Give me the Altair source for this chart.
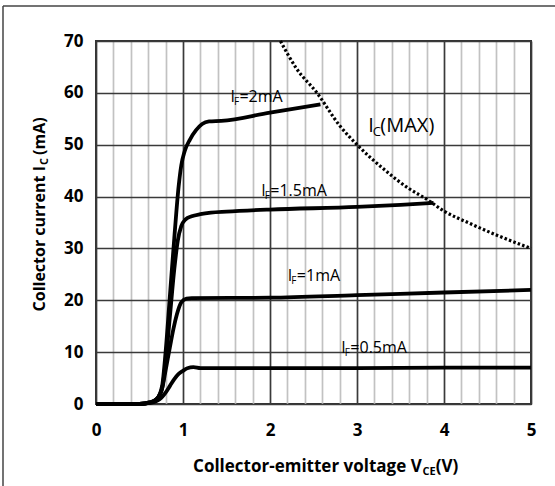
import altair as alt
import pandas as pd

# ---- data ----
series_names = ["2mA", "1.5mA", "1mA", "0.5mA"]

vce_2 = [0, 0.5, 0.62, 0.7, 0.76, 0.8, 0.85, 0.9, 0.95, 0.98, 1.02, 1.08, 1.15, 1.22, 1.3, 1.44, 2.0, 2.58]
ic_2 = [0, 0, 0.3, 1.0, 3.5, 10, 21, 32, 42, 46, 48.8, 51, 52.8, 54, 54.5, 54.6, 56.2, 57.8]

vce_15 = [0, 0.5, 0.62, 0.7, 0.76, 0.8, 0.85, 0.9, 0.94, 0.98, 1.03, 1.1, 1.2, 1.32, 1.5, 2.0, 3.0, 3.5, 3.88]
ic_15 = [0, 0, 0.3, 1.0, 3.0, 8, 17, 26, 31.5, 34.3, 35.6, 36.2, 36.6, 36.9, 37.1, 37.5, 38.0, 38.4, 38.8]

vce_1 = [0, 0.5, 0.62, 0.7, 0.76, 0.8, 0.85, 0.89, 0.93, 0.98, 1.04, 1.1, 2.0, 3.0, 4.0, 5.0]
ic_1 = [0, 0, 0.3, 1.0, 3.0, 6.5, 11, 14.5, 17.3, 19.6, 20.3, 20.4, 20.5, 21.0, 21.5, 22.0]

vce_05 = [0, 0.5, 0.62, 0.7, 0.75, 0.8, 0.85, 0.9, 0.95, 1.0, 1.05, 1.12, 1.2, 2.0, 3.0, 4.0, 5.0]
ic_05 = [0, 0, 0.2, 0.6, 1.2, 2.2, 3.5, 4.8, 5.8, 6.4, 6.9, 7.1, 6.9, 6.9, 6.9, 7.0, 7.0]

vce_max = [2.12, 2.3, 2.54, 2.8, 3.0, 3.3, 3.6, 3.8, 4.0, 4.3, 4.6, 5.0]
ic_max = [70, 64.8, 60, 53.7, 50, 45.4, 41.5, 39.5, 37.2, 34.8, 32.6, 30]

label_x = [1.545, 1.90, 2.205, 2.82]
label_y = [58.2, 40.1, 23.8, 9.8]
label_rest = ["=2mA", "=1.5mA", "=1mA", "=0.5mA"]

max_label_x = [3.13]
max_label_y = [52.5]

x_ticks = [0, 0.2, 0.4, 0.6, 0.8, 1, 1.2, 1.4, 1.6, 1.8, 2, 2.2, 2.4, 2.6, 2.8,
           3, 3.2, 3.4, 3.6, 3.8, 4, 4.2, 4.4, 4.6, 4.8, 5]
y_ticks = [0, 10, 20, 30, 40, 50, 60, 70]

# ---- tables ----
rows = []
for name, xs, ys in zip(series_names, [vce_2, vce_15, vce_1, vce_05], [ic_2, ic_15, ic_1, ic_05]):
    for a, b in zip(xs, ys):
        rows.append({"series": name, "vce": a, "ic": b})
curves_df = pd.DataFrame(rows)
max_df = pd.DataFrame({"vce": vce_max, "ic": ic_max})
labels_df = pd.DataFrame({"vce": label_x, "ic": label_y, "rest": label_rest})
max_label_df = pd.DataFrame({"vce": max_label_x, "ic": max_label_y})
one = pd.DataFrame({"k": [0]})

W, H = 435, 363
FONT = "Open Sans"

xscale = alt.Scale(domain=[0, 5], nice=False, zero=False)
yscale = alt.Scale(domain=[0, 70], nice=False)

x_axis = alt.Axis(
    values=x_ticks, tickCount=len(x_ticks) + 5, title=None, grid=True,
    gridColor={"condition": {"test": "datum.value % 1 === 0", "value": "#3a3a3a"}, "value": "#c2c2c2"},
    gridWidth=1.7, ticks=False, tickSize=0, domain=False,
    labelExpr="datum.value % 1 === 0 ? '' + datum.value : ''",
    labelFlush=False, labelPadding=18, labelFont=FONT, labelFontWeight="bold",
    labelFontSize=17, labelColor="black", labelOverlap=False,
)
y_axis = alt.Axis(
    values=y_ticks, tickCount=len(y_ticks) + 5, title=None, grid=True, gridColor="#3a3a3a", gridWidth=1.7,
    ticks=False, tickSize=0, domain=False, labelFlush=False, labelPadding=13,
    labelFont=FONT, labelFontWeight="bold", labelFontSize=17, labelColor="black",
)

X = alt.X("vce:Q", scale=xscale, axis=x_axis)
Y = alt.Y("ic:Q", scale=yscale, axis=y_axis)

curves = alt.Chart(curves_df).mark_line(
    color="black", strokeWidth=3.8, interpolate="monotone"
).encode(x=X, y=Y, detail="series:N")

max_line = alt.Chart(max_df).mark_line(
    color="black", strokeWidth=3.2, strokeDash=[2.5, 2.2], interpolate="monotone"
).encode(x=alt.X("vce:Q"), y=alt.Y("ic:Q"))

lab_i = alt.Chart(labels_df).mark_text(
    text="I", align="left", baseline="alphabetic", font=FONT, fontSize=16, color="black"
).encode(x="vce:Q", y="ic:Q")
lab_f = alt.Chart(labels_df).mark_text(
    text="F", align="left", baseline="alphabetic", font=FONT, fontSize=10, color="black", dx=3.5, dy=3
).encode(x="vce:Q", y="ic:Q")
lab_rest = alt.Chart(labels_df).mark_text(
    align="left", baseline="alphabetic", font=FONT, fontSize=16, color="black", dx=9
).encode(x="vce:Q", y="ic:Q", text="rest:N")

mx_i = alt.Chart(max_label_df).mark_text(
    text="I", align="left", baseline="alphabetic", font=FONT, fontSize=20, color="black"
).encode(x="vce:Q", y="ic:Q")
mx_c = alt.Chart(max_label_df).mark_text(
    text="C", align="left", baseline="alphabetic", font=FONT, fontSize=13, color="black", dx=4.5, dy=4
).encode(x="vce:Q", y="ic:Q")
mx_rest = alt.Chart(max_label_df).mark_text(
    text="(MAX)", align="left", baseline="alphabetic", font=FONT, fontSize=20, color="black", dx=12
).encode(x="vce:Q", y="ic:Q")

# axis titles with subscripts
xt_main = alt.Chart(one).mark_text(
    text="Collector-emitter voltage V", align="right", baseline="alphabetic",
    font=FONT, fontSize=17, fontWeight="bold", color="black"
).encode(x=alt.value(325.7), y=alt.value(430.7))
xt_sub = alt.Chart(one).mark_text(
    text="CE", align="left", baseline="alphabetic",
    font=FONT, fontSize=11, fontWeight="bold", color="black", dy=3
).encode(x=alt.value(326.5), y=alt.value(430.7))
xt_end = alt.Chart(one).mark_text(
    text="(V)", align="left", baseline="alphabetic",
    font=FONT, fontSize=17, fontWeight="bold", color="black"
).encode(x=alt.value(339.7), y=alt.value(430.7))

yt_main = alt.Chart(one).mark_text(
    text="Collector current I", align="right", baseline="alphabetic", angle=270,
    font=FONT, fontSize=16, fontWeight="bold", color="black"
).encode(x=alt.value(-51), y=alt.value(125))
yt_sub = alt.Chart(one).mark_text(
    text="C", align="left", baseline="alphabetic", angle=270,
    font=FONT, fontSize=11, fontWeight="bold", color="black", dy=3
).encode(x=alt.value(-51), y=alt.value(124))
yt_end = alt.Chart(one).mark_text(
    text="(mA)", align="left", baseline="alphabetic", angle=270,
    font=FONT, fontSize=16, fontWeight="bold", color="black"
).encode(x=alt.value(-51), y=alt.value(114))

# outer frame (top and left edges)
frame_top = alt.Chart(one).mark_rule(color="#444444", strokeWidth=1.5).encode(
    x=alt.value(-93), x2=alt.value(459), y=alt.value(-35))
frame_left = alt.Chart(one).mark_rule(color="#444444", strokeWidth=1.5).encode(
    x=alt.value(-93), y=alt.value(-35), y2=alt.value(445))

chart = alt.layer(
    curves, max_line, lab_i, lab_f, lab_rest, mx_i, mx_c, mx_rest,
    xt_main, xt_sub, xt_end, yt_main, yt_sub, yt_end, frame_top, frame_left,
).properties(
    width=W, height=H,
    padding={"left": 96, "top": 41, "right": 24, "bottom": 82},
    autosize=alt.AutoSizeParams(type="none"),
    background="white",
).configure_view(stroke="#333333", strokeWidth=2)

chart.save("out.html", embed_options={"renderer": "svg", "actions": False})
